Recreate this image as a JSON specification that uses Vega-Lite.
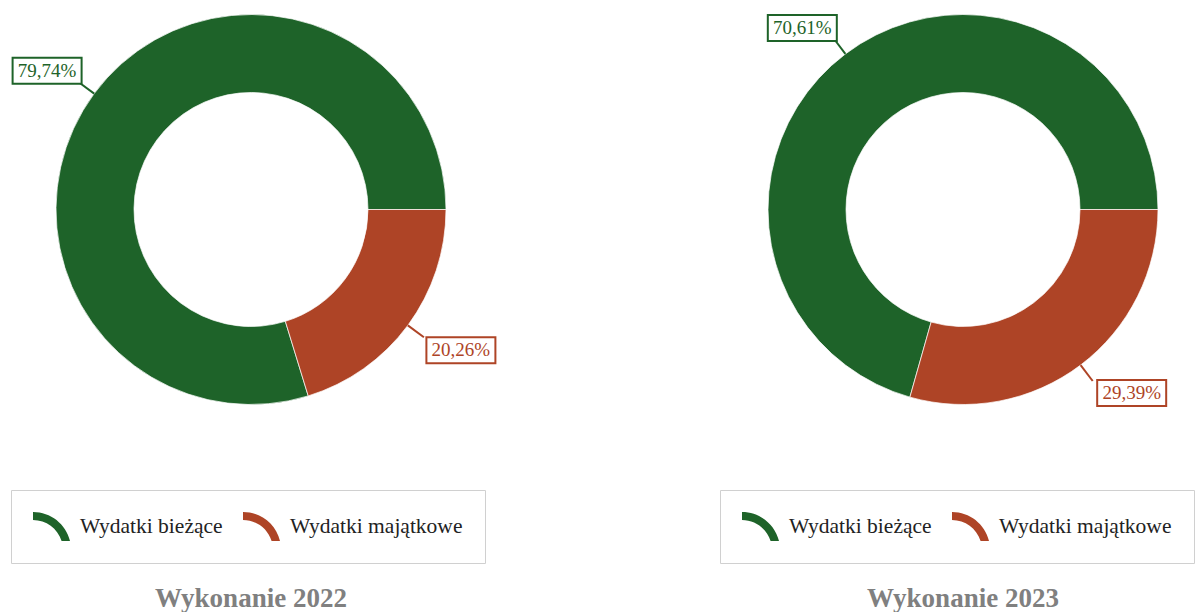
{
  "$schema": "https://vega.github.io/schema/vega-lite/v6.json",
  "padding": 0,
  "spacing": 226,
  "bounds": "flush",
  "background": "#ffffff",
  "resolve": {"scale": {"color": "independent", "stroke": "independent", "fill": "independent", "theta": "independent"}, "legend": {"color": "independent"}},
  "config": {
    "locale": {"number": {"decimal": ",", "thousands": " ", "grouping": [3], "currency": ["", " zł"]}},
    "view": {"stroke": null},
    "legend": {
      "symbolType": "M-1,-1A2.621,2.621,0,0,1,1.552,1L0.972,1A2.069,2.069,0,0,0,-1,-0.448Z",
      "symbolSize": 841,
      "symbolStrokeWidth": 0,
      "symbolOpacity": 1,
      "labelFont": "Liberation Serif",
      "labelFontSize": 21.5,
      "labelColor": "#222222",
      "labelOffset": 18,
      "labelLimit": 400,
      "columnPadding": 20,
      "padding": 22,
      "strokeColor": "#d0d0d0",
      "fillColor": "#ffffff"
    }
  },
  "datasets": {
    "d": [
      {"year": "2022", "category": "Wydatki bieżące", "value": 0.7974},
      {"year": "2022", "category": "Wydatki majątkowe", "value": 0.2026},
      {"year": "2023", "category": "Wydatki bieżące", "value": 0.7061},
      {"year": "2023", "category": "Wydatki majątkowe", "value": 0.2939}
    ]
  },
  "hconcat": [
    {
      "width": 502,
      "height": 419,
      "data": {"name": "d"},
      "transform": [{"filter": "datum.year == '2022'"}],
      "title": {"text": "Wykonanie 2022", "orient": "bottom", "anchor": "middle", "frame": "group", "offset": 22, "font": "Liberation Serif", "fontSize": 27, "fontWeight": "bold", "color": "#808080"},
      "layer": [
        {
          "mark": {"type": "arc", "innerRadius": 117, "outerRadius": 195, "stroke": "#ffffff", "strokeWidth": 0.7},
          "encoding": {
            "x": {"datum": 0, "type": "quantitative", "scale": {"domain": [-251, 251]}, "axis": null},
            "y": {"datum": 0, "type": "quantitative", "scale": {"domain": [-209.5, 209.5], "reverse": true}, "axis": null},
            "theta": {"field": "value", "type": "quantitative", "stack": true, "scale": {"range": [1.5707963267949, 7.85398163397448]}},
            "order": {"field": "category", "type": "nominal", "sort": "descending"},
            "color": {"field": "category", "type": "nominal", "scale": {"domain": ["Wydatki bieżące", "Wydatki majątkowe"], "range": ["#1e6329", "#ae4426"]},
              "legend": {"orient": "none", "legendX": 11, "legendY": 490, "direction": "horizontal", "title": null,
                "encode": {"legend": {"update": {"strokeWidth": {"value": 2}}}}}}
          }
        },
        {
          "transform": [
            {"window": [{"op": "sum", "field": "value", "as": "cum"}], "sort": [{"field": "category", "order": "descending"}], "frame": [null, 0]},
            {"calculate": "PI / 2 + 2 * PI * (datum.cum - datum.value / 2)", "as": "a"},
            {"calculate": "sin(datum.a)", "as": "ux"},
            {"calculate": "-cos(datum.a)", "as": "uy"},
            {"calculate": "195 * datum.ux", "as": "x0"},
            {"calculate": "195 * datum.uy", "as": "y0"},
            {"calculate": "215 * datum.ux", "as": "x1"},
            {"calculate": "215 * datum.uy", "as": "y1"},
            {"calculate": "datum.x1 + (datum.ux < 0 ? -31 : 37)", "as": "bx"},
            {"calculate": "datum.y1 + (datum.uy < 0 ? -11 : 13)", "as": "by"}
          ],
          "layer": [
            {
              "mark": {"type": "rule", "strokeWidth": 2},
              "encoding": {
                "x": {"field": "x0", "type": "quantitative", "scale": {"domain": [-251, 251]}, "axis": null},
                "y": {"field": "y0", "type": "quantitative", "scale": {"domain": [-209.5, 209.5], "reverse": true}, "axis": null},
                "x2": {"field": "x1"},
                "y2": {"field": "y1"},
                "stroke": {"field": "category", "type": "nominal", "scale": {"domain": ["Wydatki bieżące", "Wydatki majątkowe"], "range": ["#1e6329", "#ae4426"]}, "legend": null}
              }
            },
            {
              "mark": {"type": "point", "shape": "M-1,-0.377L1,-0.377L1,0.377L-1,0.377Z", "size": 4761, "filled": false, "fill": "#ffffff", "fillOpacity": 1, "strokeWidth": 2, "opacity": 1},
              "encoding": {
                "x": {"field": "bx", "type": "quantitative", "scale": {"domain": [-251, 251]}, "axis": null},
                "y": {"field": "by", "type": "quantitative", "scale": {"domain": [-209.5, 209.5], "reverse": true}, "axis": null},
                "stroke": {"field": "category", "type": "nominal", "scale": {"domain": ["Wydatki bieżące", "Wydatki majątkowe"], "range": ["#1e6329", "#ae4426"]}, "legend": null}
              }
            },
            {
              "mark": {"type": "text", "font": "Liberation Serif", "fontSize": 19, "align": "center", "baseline": "middle"},
              "encoding": {
                "x": {"field": "bx", "type": "quantitative", "scale": {"domain": [-251, 251]}, "axis": null},
                "y": {"field": "by", "type": "quantitative", "scale": {"domain": [-209.5, 209.5], "reverse": true}, "axis": null},
                "text": {"field": "value", "type": "quantitative", "format": ".2%"},
                "fill": {"field": "category", "type": "nominal", "scale": {"domain": ["Wydatki bieżące", "Wydatki majątkowe"], "range": ["#1e6329", "#ae4426"]}, "legend": null}
              }
            }
          ]
        }
      ]
    },
    {
      "width": 470,
      "height": 419,
      "data": {"name": "d"},
      "transform": [{"filter": "datum.year == '2023'"}],
      "title": {"text": "Wykonanie 2023", "orient": "bottom", "anchor": "middle", "frame": "group", "offset": 22, "font": "Liberation Serif", "fontSize": 27, "fontWeight": "bold", "color": "#808080"},
      "layer": [
        {
          "mark": {"type": "arc", "innerRadius": 117, "outerRadius": 195, "stroke": "#ffffff", "strokeWidth": 0.7},
          "encoding": {
            "x": {"datum": 0, "type": "quantitative", "scale": {"domain": [-235, 235]}, "axis": null},
            "y": {"datum": 0, "type": "quantitative", "scale": {"domain": [-209.5, 209.5], "reverse": true}, "axis": null},
            "theta": {"field": "value", "type": "quantitative", "stack": true, "scale": {"range": [1.5707963267949, 7.85398163397448]}},
            "order": {"field": "category", "type": "nominal", "sort": "descending"},
            "color": {"field": "category", "type": "nominal", "scale": {"domain": ["Wydatki bieżące", "Wydatki majątkowe"], "range": ["#1e6329", "#ae4426"]},
              "legend": {"orient": "none", "legendX": -8, "legendY": 490, "direction": "horizontal", "title": null,
                "encode": {"legend": {"update": {"strokeWidth": {"value": 2}}}}}}
          }
        },
        {
          "transform": [
            {"window": [{"op": "sum", "field": "value", "as": "cum"}], "sort": [{"field": "category", "order": "descending"}], "frame": [null, 0]},
            {"calculate": "PI / 2 + 2 * PI * (datum.cum - datum.value / 2)", "as": "a"},
            {"calculate": "sin(datum.a)", "as": "ux"},
            {"calculate": "-cos(datum.a)", "as": "uy"},
            {"calculate": "195 * datum.ux", "as": "x0"},
            {"calculate": "195 * datum.uy", "as": "y0"},
            {"calculate": "215 * datum.ux", "as": "x1"},
            {"calculate": "215 * datum.uy", "as": "y1"},
            {"calculate": "datum.x1 + (datum.ux < 0 ? -31 : 39)", "as": "bx"},
            {"calculate": "datum.y1 + (datum.uy < 0 ? -10 : 12)", "as": "by"}
          ],
          "layer": [
            {
              "mark": {"type": "rule", "strokeWidth": 2},
              "encoding": {
                "x": {"field": "x0", "type": "quantitative", "scale": {"domain": [-235, 235]}, "axis": null},
                "y": {"field": "y0", "type": "quantitative", "scale": {"domain": [-209.5, 209.5], "reverse": true}, "axis": null},
                "x2": {"field": "x1"},
                "y2": {"field": "y1"},
                "stroke": {"field": "category", "type": "nominal", "scale": {"domain": ["Wydatki bieżące", "Wydatki majątkowe"], "range": ["#1e6329", "#ae4426"]}, "legend": null}
              }
            },
            {
              "mark": {"type": "point", "shape": "M-1,-0.377L1,-0.377L1,0.377L-1,0.377Z", "size": 4761, "filled": false, "fill": "#ffffff", "fillOpacity": 1, "strokeWidth": 2, "opacity": 1},
              "encoding": {
                "x": {"field": "bx", "type": "quantitative", "scale": {"domain": [-235, 235]}, "axis": null},
                "y": {"field": "by", "type": "quantitative", "scale": {"domain": [-209.5, 209.5], "reverse": true}, "axis": null},
                "stroke": {"field": "category", "type": "nominal", "scale": {"domain": ["Wydatki bieżące", "Wydatki majątkowe"], "range": ["#1e6329", "#ae4426"]}, "legend": null}
              }
            },
            {
              "mark": {"type": "text", "font": "Liberation Serif", "fontSize": 19, "align": "center", "baseline": "middle"},
              "encoding": {
                "x": {"field": "bx", "type": "quantitative", "scale": {"domain": [-235, 235]}, "axis": null},
                "y": {"field": "by", "type": "quantitative", "scale": {"domain": [-209.5, 209.5], "reverse": true}, "axis": null},
                "text": {"field": "value", "type": "quantitative", "format": ".2%"},
                "fill": {"field": "category", "type": "nominal", "scale": {"domain": ["Wydatki bieżące", "Wydatki majątkowe"], "range": ["#1e6329", "#ae4426"]}, "legend": null}
              }
            }
          ]
        }
      ]
    }
  ]
}
